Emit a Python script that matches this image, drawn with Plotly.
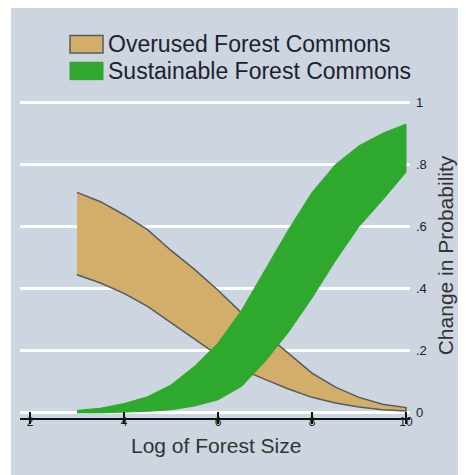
import plotly.graph_objects as go

# ---- data ----
x_vals = [3, 3.5, 4, 4.5, 5, 5.5, 6, 6.5, 7, 7.5, 8, 8.5, 9, 9.5, 10]
overused_upper = [0.71, 0.68, 0.638, 0.59, 0.523, 0.462, 0.395, 0.322, 0.255, 0.19, 0.128, 0.083, 0.05, 0.028, 0.017]
overused_lower = [0.445, 0.418, 0.385, 0.343, 0.292, 0.238, 0.185, 0.14, 0.108, 0.077, 0.05, 0.032, 0.019, 0.01, 0.006]
sustainable_upper = [0.008, 0.015, 0.03, 0.052, 0.09, 0.15, 0.225, 0.33, 0.46, 0.59, 0.71, 0.80, 0.86, 0.90, 0.93]
sustainable_lower = [0.0, 0.0, 0.002, 0.005, 0.01, 0.022, 0.042, 0.085, 0.165, 0.26, 0.37, 0.49, 0.60, 0.685, 0.775]
series_names = ["Overused Forest Commons", "Sustainable Forest Commons"]
x_title = "Log of Forest Size"
y_title = "Change in Probability"
x_tickvals = [2, 4, 6, 8, 10]
x_ticktext = ["2", "4", "6", "8", "10"]
y_tickvals = [0, 0.2, 0.4, 0.6, 0.8, 1.0]
y_ticktext = ["0", ".2", ".4", ".6", ".8", "1"]

BG = "#cdd5e0"
TAN = "#d3ad6a"
GREEN = "#2ea92e"
OUTLINE = "#545c5e"
TXT = "#1c2230"
FONT = "Liberation Sans, Arial, sans-serif"

# page has an 8px body margin; work in screen pixels and convert
OFF = 8
SW, SH = 466, 475
W, H = SW - OFF, SH - OFF
# plot area in screen pixels
PX0, PX1, PY0, PY1 = 20, 410, 93, 410
L, R, T, B = PX0 - OFF, SW - PX1, PY0 - OFF, SH - PY1 - OFF
pw, ph = PX1 - PX0, PY1 - PY0


def px_x(p):
    return (p - PX0) / pw


def px_y(p):
    return (PY1 - p) / ph


def band(xs, up, lo):
    return list(xs) + list(xs)[::-1], list(up) + list(lo)[::-1]


fig = go.Figure()

bx, by = band(x_vals, overused_upper, overused_lower)
fig.add_trace(go.Scatter(x=bx, y=by, fill="toself", fillcolor=TAN, mode="lines",
                         line=dict(color=OUTLINE, width=1.5), name=series_names[0],
                         showlegend=False, hoverinfo="skip"))
gx, gy = band(x_vals, sustainable_upper, sustainable_lower)
fig.add_trace(go.Scatter(x=gx, y=gy, fill="toself", fillcolor=GREEN, mode="lines",
                         line=dict(color=GREEN, width=1), name=series_names[1],
                         showlegend=False, hoverinfo="skip"))
# empty trace for the overlay axis carrying the outside half of the ticks
fig.add_trace(go.Scatter(x=[], y=[], xaxis="x2", showlegend=False, hoverinfo="skip"))

shapes = [
    dict(type="rect", xref="paper", yref="paper", layer="below",
         x0=px_x(11), x1=px_x(SW + 2), y0=px_y(SH + 2), y1=px_y(8),
         fillcolor=BG, line=dict(width=0)),
    dict(type="rect", xref="paper", yref="paper",
         x0=px_x(70), x1=px_x(103), y0=px_y(54), y1=px_y(37),
         fillcolor=TAN, line=dict(color=OUTLINE, width=1.5)),
    dict(type="rect", xref="paper", yref="paper",
         x0=px_x(70), x1=px_x(103), y0=px_y(80), y1=px_y(63),
         fillcolor=GREEN, line=dict(color="#3a9a3a", width=1)),
]
annotations = [
    dict(text=series_names[0], xref="paper", yref="paper", x=px_x(106), y=px_y(45),
         xanchor="left", yanchor="middle", showarrow=False,
         font=dict(family=FONT, size=23, color=TXT)),
    dict(text=series_names[1], xref="paper", yref="paper", x=px_x(106), y=px_y(72),
         xanchor="left", yanchor="middle", showarrow=False,
         font=dict(family=FONT, size=23, color=TXT)),
    dict(text=x_title, xref="paper", yref="paper", x=px_x(216), y=px_y(437),
         xanchor="center", yanchor="middle", showarrow=False, borderpad=0,
         font=dict(family=FONT, size=21, color="#333")),
]

fig.update_layout(
    width=W, height=H,
    margin=dict(l=L, r=R, t=T, b=B, autoexpand=False),
    paper_bgcolor="white",
    plot_bgcolor="rgba(0,0,0,0)",
    font=dict(family=FONT, color=TXT),
    showlegend=False,
    shapes=shapes,
    annotations=annotations,
    xaxis=dict(range=[2 - 10 / 47, 10 + 4 / 47], tickvals=x_tickvals, ticktext=x_ticktext,
               showgrid=False, zeroline=False, showline=True, linecolor="#111", linewidth=2,
               ticks="inside", ticklen=6, tickwidth=1.5, tickcolor="#111",
               tickfont=dict(size=12, color="#222"), automargin=False,
               ticklabelstandoff=-8),
    xaxis2=dict(overlaying="x", matches="x", anchor="y", side="bottom",
                tickvals=x_tickvals, showticklabels=False, showgrid=False, zeroline=False,
                ticks="outside", ticklen=5, tickwidth=1.5, tickcolor="#111", showline=False),
    yaxis=dict(range=[-5 / 303, 1.03], side="right", tickvals=y_tickvals, ticktext=y_ticktext,
               showgrid=True, gridcolor="white", gridwidth=2.5, zeroline=False, showline=False,
               ticks="", tickfont=dict(size=13, color="#222"), automargin=False,
               ticklabelstandoff=5,
               title=dict(text=y_title, font=dict(size=21, color="#333"), standoff=12)),
)

fig.write_html("out.html")
